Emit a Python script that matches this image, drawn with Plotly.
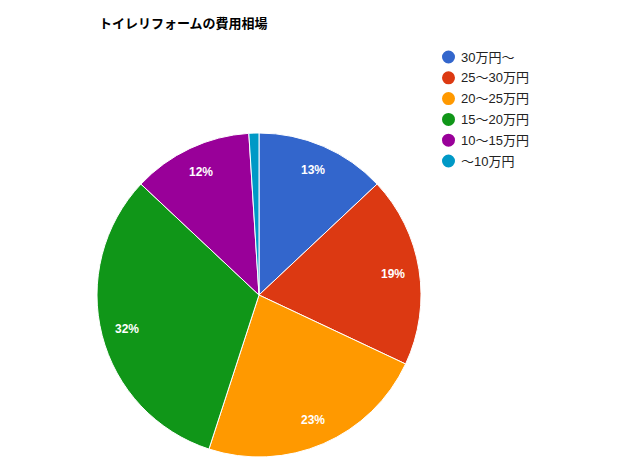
import math
import plotly.graph_objects as go

categories = ["30万円～", "25～30万円", "20～25万円", "15～20万円", "10～15万円", "～10万円"]
values = [13, 19, 23, 32, 12, 1]
colors = ["#3366cc", "#dc3912", "#ff9900", "#109618", "#990099", "#0099c6"]
title_text = "トイレリフォームの費用相場"

FONT = "Arial, Liberation Sans, Noto Sans CJK JP, sans-serif"
W, H = 640, 472
OFF = 8  # browser body margin


def px(x):
    return (x - OFF) / W


def py(y):
    return 1 - (y - OFF) / H


cx, cy, R = 259, 295, 162

fig = go.Figure()
fig.add_trace(go.Pie(
    labels=categories, values=values, sort=False, direction="clockwise", rotation=0,
    marker=dict(colors=colors, line=dict(color="white", width=1)),
    textinfo="none", showlegend=False, hoverinfo="label+percent",
    domain=dict(x=[px(cx - R), px(cx + R)], y=[py(cy + R), py(cy - R)]),
))

annotations = [dict(text="<b>" + title_text + "</b>", x=px(97), y=py(23),
                    xref="paper", yref="paper", xanchor="left", yanchor="middle",
                    showarrow=False, font=dict(size=13, color="#000000", family=FONT))]

# slice labels
total = sum(values)
cum = 0.0
for v in values:
    frac = v / total
    mid = (cum + frac / 2) * 2 * math.pi
    cum += frac
    if frac < 0.05:
        continue
    lx = cx + 0.84 * R * math.sin(mid)
    ly = cy - 0.84 * R * math.cos(mid)
    annotations.append(dict(text="<b>%d%%</b>" % round(frac * 100), x=px(lx), y=py(ly),
                            xref="paper", yref="paper", xanchor="center", yanchor="middle",
                            showarrow=False, font=dict(size=12, color="white", family=FONT)))

# legend
shapes = []
for i, (c, col) in enumerate(zip(categories, colors)):
    yy = 57 + i * 20.8
    shapes.append(dict(type="circle", xref="paper", yref="paper",
                       xsizemode="pixel", ysizemode="pixel",
                       xanchor=px(448.5), yanchor=py(yy),
                       x0=-6.5, x1=6.5, y0=-6.5, y1=6.5,
                       fillcolor=col, line=dict(width=0)))
    annotations.append(dict(text=c, x=px(459), y=py(yy), xref="paper", yref="paper",
                            xanchor="left", yanchor="middle", showarrow=False,
                            font=dict(size=13, color="#222222", family=FONT)))

fig.update_layout(
    width=W, height=H, margin=dict(l=0, r=0, t=0, b=0),
    paper_bgcolor="white", plot_bgcolor="white",
    font=dict(family=FONT, size=12, color="#222222"),
    annotations=annotations, shapes=shapes,
)
fig.write_html("out.html")
